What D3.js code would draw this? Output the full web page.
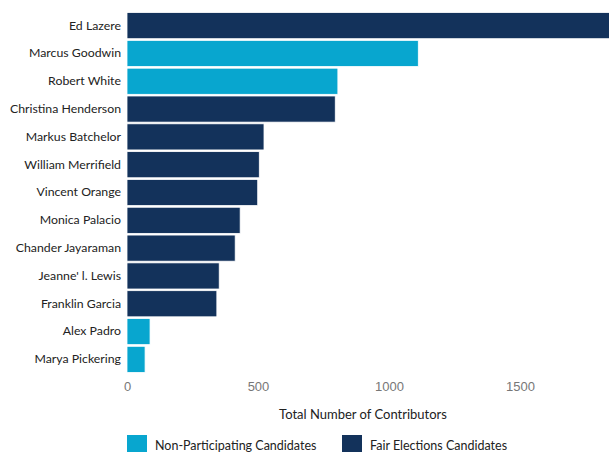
<!DOCTYPE html>
<html><head><meta charset="utf-8">
<script src="https://cdn.jsdelivr.net/npm/d3@7"></script>
<style>
html,body{margin:0;padding:0;background:#fff;}
svg{display:block;}
</style>
</head><body>
<svg id="chart" width="609" height="452"></svg>
<script>
const candidates = ["Ed Lazere","Marcus Goodwin","Robert White","Christina Henderson","Markus Batchelor","William Merrifield","Vincent Orange","Monica Palacio","Chander Jayaraman","Jeanne' l. Lewis","Franklin Garcia","Alex Padro","Marya Pickering"];
const contributors = [1900,1112,805,795,523,505,499,432,413,352,343,88,69];
const program = ["Fair","Non","Non","Fair","Fair","Fair","Fair","Fair","Fair","Fair","Fair","Non","Non"];
const xTicks = [0,500,1000,1500];
const seriesNames = ["Non-Participating Candidates","Fair Elections Candidates"];
const seriesKeys = ["Non","Fair"];
const seriesColors = ["#08a6cf","#13325b"];

const svg = d3.select("#chart");
const color = d3.scaleOrdinal().domain(seriesKeys).range(seriesColors);
const x = d3.scaleLinear().domain([0,1840]).range([127,609]);
const y = d3.scaleBand().domain(candidates).range([12,373]).paddingInner(0.06).paddingOuter(0.02);
const labelFont = "Lato, 'Open Sans', sans-serif";

const data = candidates.map((c,i)=>({name:c,value:contributors[i],type:program[i]}));

svg.append("g").selectAll("rect").data(data).join("rect")
  .attr("x", x(0))
  .attr("y", d=>y(d.name))
  .attr("width", d=>x(d.value)-x(0))
  .attr("height", y.bandwidth())
  .attr("fill", d=>color(d.type))
  .attr("stroke", "#ffffff")
  .attr("stroke-width", 0.8);

// category labels
const yAxis = svg.append("g").attr("transform", `translate(${x(0)-6},0)`)
  .call(d3.axisLeft(y).tickSize(0).tickPadding(0));
yAxis.select(".domain").remove();
yAxis.selectAll("text").attr("font-family", labelFont).attr("font-size", 12.3).attr("fill", "#222");

// x axis
const xAxis = svg.append("g").attr("transform", `translate(0,382)`)
  .call(d3.axisBottom(x).tickValues(xTicks).tickSize(0).tickPadding(0).tickFormat(d3.format("d")));
xAxis.select(".domain").remove();
xAxis.selectAll("text").attr("font-family", "'Liberation Sans', Arial, sans-serif")
  .attr("font-size", 13).attr("fill", "#777").attr("dy", "0.71em");

svg.append("text").attr("x", 363).attr("y", 419).attr("text-anchor", "middle")
  .attr("font-family", labelFont).attr("font-size", 13).attr("fill", "#222")
  .text("Total Number of Contributors");

// legend
const legendX = [127, 342];
const lg = svg.append("g").selectAll("g").data(seriesNames).join("g")
  .attr("transform", (d,i)=>`translate(${legendX[i]},435)`);
lg.append("rect").attr("width", 20).attr("height", 20).attr("fill", (d,i)=>seriesColors[i]);
lg.append("text").attr("x", 28).attr("y", 15).attr("font-family", labelFont)
  .attr("font-size", 12.5).attr("fill", "#222").text(d=>d);
</script>
</body></html>
